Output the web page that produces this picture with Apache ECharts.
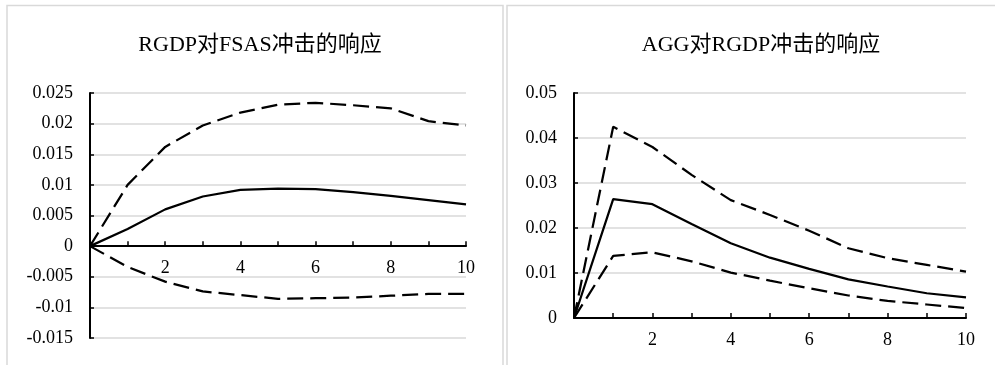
<!DOCTYPE html>
<html>
<head>
<meta charset="utf-8">
<script src="https://cdn.jsdelivr.net/npm/echarts@6/dist/echarts.min.js"></script>
<style>
html,body{margin:0;padding:0;background:#fff;}
#chart{width:995px;height:365px;}
</style>
</head>
<body>
<div id="chart"></div>
<script>
// ---- data ----
const titleLeft = 'RGDP对FSAS冲击的响应';
const titleRight = 'AGG对RGDP冲击的响应';
const periods = [0, 1, 2, 3, 4, 5, 6, 7, 8, 9, 10];
const leftMid   = [0, 0.0028, 0.0060, 0.0081, 0.0092, 0.0094, 0.0093, 0.0088, 0.0082, 0.0075, 0.0068];
const leftUpper = [0, 0.0100, 0.0162, 0.0197, 0.0218, 0.0231, 0.0234, 0.0230, 0.0225, 0.0204, 0.0197];
const leftLower = [0, -0.0034, -0.0058, -0.0074, -0.0080, -0.0086, -0.0085, -0.0084, -0.0081, -0.0078, -0.0078];
const rightMid   = [0, 0.0264, 0.0253, 0.0209, 0.0166, 0.0134, 0.0109, 0.0086, 0.0070, 0.0055, 0.0046];
const rightUpper = [0, 0.0425, 0.0380, 0.0318, 0.0262, 0.0229, 0.0194, 0.0155, 0.0133, 0.0118, 0.0103];
const rightLower = [0, 0.0138, 0.0146, 0.0126, 0.0101, 0.0083, 0.0066, 0.0050, 0.0038, 0.0030, 0.0022];
const leftYTicks = {min: -0.015, max: 0.025, interval: 0.005};
const rightYTicks = {min: 0, max: 0.05, interval: 0.01};

// ---- chart ----
const FONT = '"Liberation Serif", "Times New Roman", "Noto Sans CJK SC", serif';
const pairs = (xs, ys) => xs.map((x, i) => [x, ys[i]]);
const grids = [
  {left: 90, top: 93, width: 376, height: 245},
  {left: 574, top: 93, width: 392, height: 225}
];
// shift the category axis up to the y=0 line (labels follow it)
function zeroOffset(g, t) {
  return -g.height * (0 - t.min) / (t.max - t.min);
}

function xAxisCfg(gridIndex, t) {
  return {
    type: 'value', gridIndex, min: 0, max: 10, interval: 1,
    offset: zeroOffset(grids[gridIndex], t),
    axisLine: {show: true, onZero: false, lineStyle: {color: '#000', width: 2}},
    axisTick: {show: true, inside: true, length: 5, lineStyle: {color: '#000', width: 1.5}},
    axisLabel: {
      color: '#000', fontFamily: FONT, fontSize: 18, margin: 13,
      formatter: v => (v > 0 && v % 2 === 0) ? String(v) : ''
    },
    splitLine: {show: false}
  };
}
function yAxisCfg(gridIndex, t) {
  return {
    type: 'value', gridIndex, min: t.min, max: t.max, interval: t.interval,
    axisLine: {show: true, lineStyle: {color: '#000', width: 2}},
    axisTick: {show: true, inside: true, length: 4, lineStyle: {color: '#000', width: 1.5}},
    axisLabel: {
      color: '#000', fontFamily: FONT, fontSize: 18, margin: 17,
      formatter: v => String(parseFloat(v.toFixed(4)))
    },
    splitLine: {show: true, lineStyle: {color: '#d9d9d9', width: 1.5}}
  };
}
function line(xi, data, dashed) {
  return {
    type: 'line', xAxisIndex: xi, yAxisIndex: xi, data, symbol: 'none',
    smooth: false, silent: true,
    lineStyle: {color: '#000', width: 2.25, type: dashed ? [16, 7] : 'solid', cap: 'butt'}
  };
}

const chart = echarts.init(document.getElementById('chart'), null, {renderer: 'canvas'});
chart.setOption({
  backgroundColor: '#fff',
  animation: false,
  graphic: [
    {type: 'rect', shape: {x: 7, y: 5.5, width: 496, height: 420}, style: {fill: 'none', stroke: '#d9d9d9', lineWidth: 1.5}, z: -10},
    {type: 'rect', shape: {x: 507, y: 5.5, width: 500, height: 420}, style: {fill: 'none', stroke: '#d9d9d9', lineWidth: 1.5}, z: -10}
  ],
  title: [
    {text: titleLeft, left: 255, top: 29, textAlign: 'center',
     textStyle: {fontFamily: FONT, fontSize: 22, fontWeight: 'normal', color: '#000'}},
    {text: titleRight, left: 756, top: 29, textAlign: 'center',
     textStyle: {fontFamily: FONT, fontSize: 22, fontWeight: 'normal', color: '#000'}}
  ],
  grid: grids,
  xAxis: [xAxisCfg(0, leftYTicks), xAxisCfg(1, rightYTicks)],
  yAxis: [yAxisCfg(0, leftYTicks), yAxisCfg(1, rightYTicks)],
  series: [
    line(0, pairs(periods, leftMid), false),
    line(0, pairs(periods, leftUpper), true),
    line(0, pairs(periods, leftLower), true),
    line(1, pairs(periods, rightMid), false),
    line(1, pairs(periods, rightUpper), true),
    line(1, pairs(periods, rightLower), true)
  ]
});
</script>
</body>
</html>
